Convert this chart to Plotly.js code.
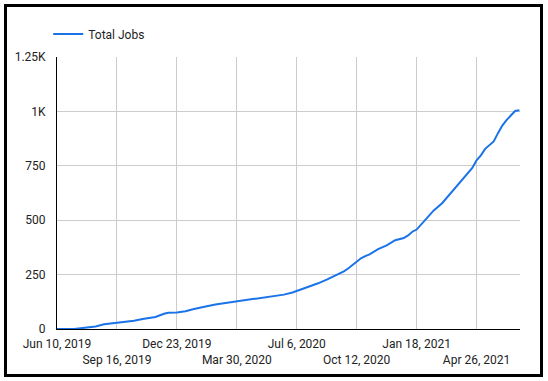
<!DOCTYPE html>
<html>
<head>
<meta charset="utf-8">
<script src="https://cdn.plot.ly/plotly-3.0.1.min.js"></script>
<style>
html,body{margin:0;padding:0;background:#fff;}
#wrap{position:relative;width:548px;height:381px;}
#chart{width:548px;height:381px;}
#frame{position:absolute;left:4px;top:4px;width:533px;height:367px;border:3px solid #000;pointer-events:none;}
</style>
</head>
<body>
<div id="wrap"><div id="chart"></div><div id="frame"></div></div>
<script>
const seriesName = "Total Jobs";
const dates = [
 "2019-06-10","2019-06-24","2019-07-08","2019-07-22","2019-08-05","2019-08-12","2019-08-26","2019-09-09","2019-09-16","2019-09-30",
 "2019-10-14","2019-10-28","2019-11-04","2019-11-18","2019-12-02","2019-12-09","2019-12-23","2019-12-30","2020-01-06","2020-01-20",
 "2020-02-03","2020-02-10","2020-02-24","2020-03-09","2020-03-30","2020-04-13","2020-04-27","2020-05-11","2020-05-18","2020-06-01",
 "2020-06-15","2020-06-29","2020-07-06","2020-07-13","2020-07-27","2020-08-10","2020-08-24","2020-09-07","2020-09-21","2020-09-28",
 "2020-10-12","2020-10-19","2020-10-26","2020-11-02","2020-11-16","2020-11-30","2020-12-14","2020-12-28","2021-01-04","2021-01-11",
 "2021-01-18","2021-02-01","2021-02-15","2021-03-01","2021-03-15","2021-03-22","2021-04-05","2021-04-19","2021-04-26","2021-05-03",
 "2021-05-10","2021-05-24","2021-05-31","2021-06-07","2021-06-14","2021-06-21","2021-06-28","2021-07-05"
];
const totalJobs = [
 0,0,0,5,10,12,22,26,28,32,
 38,46,50,55,70,75,76,78,82,92,
 102,105,113,119,125,131,138,145,148,153,
 158,168,175,181,195,210,227,245,265,278,
 310,325,335,343,367,384,408,418,430,447,
 457,500,545,579,626,650,697,740,775,798,
 828,862,900,935,960,980,1002,1005
];
const xTickVals = ["2019-06-10","2019-09-16","2019-12-23","2020-03-30","2020-07-06","2020-10-12","2021-01-18","2021-04-26"];
const xTickText = ["Jun 10, 2019","<br>Sep 16, 2019","Dec 23, 2019","<br>Mar 30, 2020","Jul 6, 2020","<br>Oct 12, 2020","Jan 18, 2021","<br>Apr 26, 2021"];
const yTickVals = [0,250,500,750,1000,1250];
const yTickText = ["0","250","500","750","1K","1.25K"];

const fontFam = "Roboto, Arial, sans-serif";
const trace = {
  x: dates, y: totalJobs, type: "scatter", mode: "lines", name: seriesName,
  line: {color: "#1a73e8", width: 2}
};
const layout = {
  width: 548, height: 381,
  margin: {l: 57, r: 28, t: 57, b: 52},
  paper_bgcolor: "#fff", plot_bgcolor: "#fff",
  font: {family: fontFam, size: 12, color: "#222"},
  showlegend: true,
  legend: {orientation: "h", x: -0.019, xanchor: "left", y: 0.873, yanchor: "bottom",
           xref: "paper", yref: "container", font: {size: 12, color: "#222"}},
  xaxis: {
    type: "date", range: ["2019-06-10", "2021-07-06"],
    tickmode: "array", tickvals: xTickVals, ticktext: xTickText, tickangle: 0,
    showgrid: true, gridcolor: "#cccccc", gridwidth: 1,
    showline: true, linecolor: "#000", linewidth: 1,
    ticks: "", ticklabelstandoff: 4, zeroline: false, fixedrange: true
  },
  yaxis: {
    range: [0, 1250], tickmode: "array", tickvals: yTickVals, ticktext: yTickText,
    showgrid: true, gridcolor: "#cccccc", gridwidth: 1,
    showline: true, linecolor: "#000", linewidth: 1,
    ticks: "", ticklabelstandoff: 8, zeroline: false, fixedrange: true
  }
};
Plotly.newPlot("chart", [trace], layout, {displayModeBar: false, staticPlot: true});
</script>
</body>
</html>
